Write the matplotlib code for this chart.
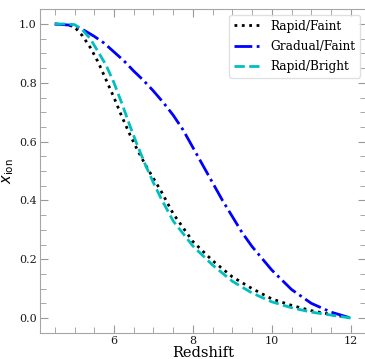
import numpy as np
import matplotlib
matplotlib.use("Agg")
import matplotlib.pyplot as plt
from matplotlib.ticker import MultipleLocator

# values
z_rapid_faint = [4.5, 4.8, 5.0, 5.2, 5.4, 5.6, 5.8, 6.0, 6.2, 6.4, 6.6, 6.8, 7.0,
                 7.2, 7.5, 8.0, 8.5, 9.0, 9.5, 10.0, 10.5, 11.0, 11.5, 12.0]
x_rapid_faint = [1.0, 0.998, 0.99, 0.96, 0.92, 0.87, 0.81, 0.75, 0.685, 0.625, 0.57,
                 0.52, 0.475, 0.43, 0.355, 0.26, 0.195, 0.14, 0.10, 0.065, 0.043,
                 0.025, 0.012, 0.0]

z_gradual_faint = [4.5, 5.0, 5.25, 5.5, 5.75, 6.0, 6.25, 6.5, 6.75, 7.0, 7.25, 7.5,
                   7.75, 8.0, 8.25, 8.5, 8.75, 9.0, 9.25, 9.5, 9.75, 10.0, 10.5,
                   11.0, 11.5, 12.0]
x_gradual_faint = [1.0, 0.995, 0.978, 0.958, 0.935, 0.905, 0.875, 0.84, 0.808, 0.772,
                   0.733, 0.69, 0.64, 0.58, 0.52, 0.46, 0.40, 0.345, 0.29, 0.243,
                   0.203, 0.163, 0.097, 0.05, 0.02, 0.0]

z_rapid_bright = [4.5, 4.8, 5.0, 5.2, 5.4, 5.6, 5.8, 6.0, 6.2, 6.4, 6.6, 6.8, 7.0,
                  7.2, 7.5, 8.0, 8.5, 9.0, 9.5, 10.0, 10.5, 11.0, 11.5, 12.0]
x_rapid_bright = [1.0, 1.0, 0.998, 0.98, 0.95, 0.905, 0.86, 0.80, 0.73, 0.655, 0.585,
                  0.52, 0.46, 0.405, 0.33, 0.245, 0.18, 0.125, 0.085, 0.055, 0.035,
                  0.02, 0.01, 0.0]

labels = ["Rapid/Faint", "Gradual/Faint", "Rapid/Bright"]

plt.rcParams['font.family'] = 'DejaVu Serif'
plt.rcParams['mathtext.fontset'] = 'dejavusans'

fig = plt.figure(figsize=(3.65, 3.59), dpi=100)
ax = fig.add_axes([40 / 365, 26.3 / 359, 325.5 / 365, 323.4 / 359])

ax.plot(z_rapid_faint, x_rapid_faint, color='k', ls=':', lw=2, label=labels[0])
ax.plot(z_gradual_faint, x_gradual_faint, color='b', ls='-.', lw=2, label=labels[1])
ax.plot(z_rapid_bright, x_rapid_bright, color='c', ls='--', lw=2, label=labels[2])

ax.set_xlim(4.125, 12.375)
ax.set_ylim(-0.05, 1.05)
ax.xaxis.set_major_locator(MultipleLocator(2))
ax.xaxis.set_minor_locator(MultipleLocator(0.5))
ax.yaxis.set_major_locator(MultipleLocator(0.2))
ax.yaxis.set_minor_locator(MultipleLocator(0.05))

for s in ax.spines.values():
    s.set_color('0.65')
ax.tick_params(which='both', direction='in', top=True, right=True,
               color='0.6', labelsize=8, pad=2.5, labelcolor='0.1')
ax.tick_params(which='major', length=6)
ax.tick_params(which='minor', length=4)

ax.set_xlabel("Redshift", fontsize=10.5, labelpad=0)
ax.set_ylabel(r"$x_{\rm ion}$", fontsize=10.5, labelpad=2)

leg = ax.legend(loc='upper right', fontsize=8.7, handlelength=2.2,
                labelspacing=0.6, borderaxespad=0.45)
leg.get_frame().set_edgecolor('0.85')

fig.savefig("out.png", dpi=100)
